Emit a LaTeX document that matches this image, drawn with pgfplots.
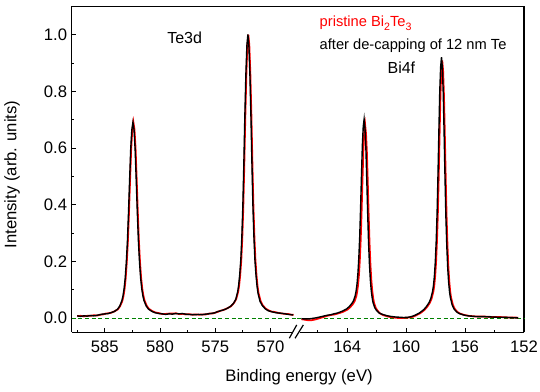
\documentclass[border=0pt]{standalone}
\usepackage{fontspec}
\setmainfont{Liberation Sans}
\usepackage{pgfplots}
\usepackage{pgfplotstable}
\pgfplotsset{compat=1.18}
\definecolor{xpsred}{RGB}{255,0,0}
\definecolor{zerogreen}{RGB}{0,128,0}

% Te3d region, black = after de-capping, red = pristine
\pgfplotstableread{
x y
587.5 0.008
587.2 0.006
586.9 0.008
586.6 0.007
586.3 0.009
586.0 0.008
585.7 0.010
585.46 0.012
585.2 0.014
584.96 0.015
584.7 0.016
584.46 0.019
584.16 0.023
583.86 0.031
583.66 0.042
583.46 0.061
583.36 0.078
583.26 0.103
583.16 0.140
583.06 0.195
582.96 0.269
582.86 0.371
582.76 0.487
582.66 0.596
582.56 0.664
582.46 0.691
582.36 0.665
582.26 0.597
582.16 0.488
582.06 0.372
581.96 0.270
581.86 0.196
581.76 0.141
581.66 0.104
581.56 0.079
581.46 0.062
581.26 0.043
581.06 0.032
580.76 0.024
580.46 0.019
580.1 0.016
579.8 0.015
579.5 0.013
579.2 0.015
578.9 0.014
578.6 0.016
578.3 0.015
578.0 0.016
577.7 0.014
577.4 0.013
577.1 0.012
576.8 0.012
576.5 0.013
576.2 0.012
575.9 0.014
575.6 0.015
575.3 0.017
575.0 0.019
574.81 0.023
574.58 0.025
574.35 0.028
574.1 0.031
573.89 0.035
573.61 0.042
573.34 0.053
573.15 0.066
572.97 0.094
572.88 0.118
572.79 0.154
572.69 0.207
572.60 0.285
572.51 0.392
572.42 0.540
572.33 0.707
572.23 0.864
572.14 0.963
572.05 1.001
571.96 0.961
571.87 0.862
571.77 0.705
571.68 0.537
571.59 0.389
571.50 0.281
571.41 0.202
571.31 0.148
571.22 0.112
571.13 0.087
570.95 0.059
570.76 0.045
570.49 0.033
570.21 0.026
569.95 0.023
569.75 0.021
569.5 0.019
569.29 0.018
569.0 0.017
568.7 0.015
568.4 0.013
568.15 0.012
567.95 0.011
}\teblack

\pgfplotstableread{
x y
587.5 0.007
587.2 0.008
586.9 0.006
586.6 0.008
586.3 0.008
586.0 0.010
585.7 0.009
585.42 0.012
585.16 0.013
584.92 0.016
584.66 0.017
584.42 0.019
584.12 0.024
583.82 0.031
583.62 0.042
583.42 0.060
583.32 0.077
583.22 0.101
583.12 0.138
583.02 0.193
582.92 0.266
582.82 0.368
582.72 0.484
582.62 0.594
582.52 0.663
582.42 0.692
582.32 0.667
582.22 0.600
582.12 0.492
582.02 0.376
581.92 0.274
581.82 0.199
581.72 0.144
581.62 0.106
581.52 0.081
581.42 0.064
581.22 0.044
581.02 0.033
580.72 0.025
580.42 0.020
580.06 0.017
579.76 0.014
579.46 0.015
579.16 0.016
578.86 0.016
578.56 0.017
578.26 0.014
577.96 0.015
577.66 0.013
577.36 0.014
577.06 0.012
576.76 0.013
576.46 0.012
576.16 0.013
575.86 0.013
575.56 0.016
575.26 0.016
574.96 0.020
574.77 0.022
574.54 0.026
574.31 0.028
574.06 0.032
573.85 0.036
573.57 0.042
573.30 0.054
573.11 0.067
572.93 0.093
572.84 0.116
572.75 0.151
572.65 0.203
572.56 0.280
572.47 0.386
572.38 0.533
572.29 0.700
572.19 0.858
572.10 0.960
572.01 1.000
571.92 0.963
571.83 0.866
571.73 0.711
571.64 0.543
571.55 0.395
571.46 0.286
571.37 0.206
571.27 0.151
571.18 0.114
571.09 0.089
570.91 0.061
570.72 0.046
570.45 0.034
570.17 0.027
569.91 0.023
569.71 0.022
569.46 0.020
569.25 0.018
568.96 0.016
568.66 0.015
568.36 0.014
568.11 0.012
567.91 0.012
}\tered

% Bi4f region
\pgfplotstableread{
x y
167.10 -0.002
166.85 -0.003
166.60 -0.003
166.35 -0.001
166.10 0.001
165.85 0.004
165.60 0.007
165.35 0.010
165.10 0.012
164.90 0.015
164.65 0.018
164.35 0.024
164.05 0.032
163.87 0.040
163.69 0.051
163.57 0.061
163.45 0.080
163.39 0.097
163.33 0.121
163.27 0.158
163.21 0.212
163.15 0.286
163.09 0.388
163.03 0.502
162.97 0.609
162.91 0.676
162.85 0.702
162.79 0.668
162.73 0.599
162.67 0.489
162.61 0.372
162.55 0.268
162.49 0.192
162.43 0.137
162.37 0.099
162.31 0.074
162.25 0.056
162.13 0.037
162.01 0.027
161.83 0.018
161.65 0.014
161.35 0.009
161.05 0.006
160.75 0.004
160.45 0.003
160.15 0.002
159.85 0.003
159.60 0.006
159.40 0.010
159.10 0.018
158.80 0.030
158.62 0.041
158.44 0.055
158.32 0.070
158.20 0.096
158.14 0.117
158.08 0.150
158.02 0.199
157.96 0.271
157.90 0.369
157.84 0.503
157.78 0.655
157.72 0.798
157.66 0.886
157.60 0.921
157.54 0.882
157.48 0.791
157.42 0.645
157.36 0.490
157.30 0.353
157.24 0.253
157.18 0.179
157.12 0.129
157.06 0.095
157.00 0.073
156.88 0.047
156.76 0.033
156.58 0.022
156.40 0.016
156.10 0.011
155.80 0.008
155.40 0.006
155.00 0.005
154.60 0.005
154.20 0.004
153.80 0.003
153.40 0.003
153.00 0.002
152.60 0.001
152.40 0.001
}\biblack

\pgfplotstableread{
x y
167.10 -0.004
166.85 -0.006
166.60 -0.008
166.35 -0.007
166.10 -0.004
165.85 0.000
165.60 0.004
165.35 0.008
165.10 0.011
164.85 0.013
164.58 0.017
164.28 0.022
163.98 0.030
163.80 0.038
163.62 0.049
163.50 0.059
163.38 0.077
163.32 0.094
163.26 0.117
163.20 0.153
163.14 0.206
163.08 0.278
163.02 0.377
162.96 0.488
162.90 0.591
162.84 0.657
162.78 0.682
162.72 0.650
162.66 0.583
162.60 0.476
162.54 0.362
162.48 0.261
162.42 0.187
162.36 0.134
162.30 0.097
162.24 0.072
162.18 0.055
162.06 0.036
161.94 0.026
161.76 0.016
161.58 0.011
161.28 0.006
160.98 0.003
160.68 0.001
160.38 0.000
160.08 0.001
159.78 0.002
159.53 0.005
159.35 0.009
159.05 0.017
158.75 0.029
158.57 0.040
158.39 0.054
158.27 0.069
158.15 0.094
158.09 0.115
158.03 0.148
157.97 0.196
157.91 0.268
157.85 0.364
157.79 0.497
157.73 0.647
157.67 0.788
157.61 0.875
157.55 0.909
157.49 0.871
157.43 0.781
157.37 0.637
157.31 0.484
157.25 0.349
157.19 0.250
157.13 0.177
157.07 0.128
157.01 0.094
156.95 0.072
156.83 0.047
156.71 0.033
156.53 0.022
156.35 0.016
156.05 0.011
155.75 0.008
155.35 0.006
154.95 0.006
154.55 0.005
154.15 0.004
153.75 0.004
153.35 0.003
152.95 0.002
152.55 0.002
152.40 0.001
}\bired

\pgfplotsset{
  xpsaxis/.style={
    scale only axis, height=244.35pt,
    ymin=-0.05, ymax=1.10, x dir=reverse,
    separate axis lines, axis x line*=box,
    axis line style={-, line width=1pt, black},
    tick align=inside, xtick pos=bottom,
    major tick length=3pt, minor tick length=2pt,
    tick style={line width=0.8pt, black},
    /pgf/number format/assume math mode=true,
    tick label style={font=\fontsize{12.5}{15}\selectfont},
    xticklabel style={yshift=-3pt},
    clip=false,
  },
  datared/.style={color=xpsred, line width=1.3pt},
  datablack/.style={color=black, line width=1.05pt},
  zeroline/.style={color=zerogreen, line width=0.75pt, dash pattern=on 3pt off 2pt},
}

\begin{document}
\begin{tikzpicture}
\begin{axis}[xpsaxis,
  at={(0pt,0pt)}, anchor=south west, width=169.0pt,
  xmin=567.6, xmax=588,
  axis y line*=left,
  xtick={570,575,580,585}, minor xtick={572.5,577.5,582.5,587.5},
  ytick={0,0.2,0.4,0.6,0.8,1.0}, minor ytick={0.1,0.3,0.5,0.7,0.9},
  ytick pos=left,
  yticklabel style={/pgf/number format/.cd, fixed, fixed zerofill, precision=1},
]
\addplot[zeroline] coordinates {(588,0) (567.6,0)};
\addplot[datared] table[x=x,y=y] {\tered};
\addplot[datablack] table[x=x,y=y] {\teblack};
\end{axis}
\begin{axis}[xpsaxis,
  at={(169.0pt,0pt)}, anchor=south west, width=170.25pt,
  xmin=152, xmax=167.4,
  axis y line*=right, ytick=\empty,
  xtick={152,156,160,164}, minor xtick={154,158,162,166},
]
\addplot[zeroline] coordinates {(167.4,0) (152,0)};
\addplot[datared] table[x=x,y=y] {\bired};
\addplot[datablack] table[x=x,y=y] {\biblack};
\end{axis}
% top frame across both parts
\draw[line width=1pt] (0pt,244.35pt) -- (339.25pt,244.35pt);
% axis break
\fill[white] (165.2pt,-0.9pt) rectangle (171.4pt,0.9pt);
\draw[line width=0.9pt] (163.2pt,-4.5pt) -- (168.75pt,5.5pt);
\draw[line width=0.9pt] (167.5pt,-4.5pt) -- (173.7pt,5.5pt);
% labels
\node[anchor=base west, inner sep=0pt, font=\fontsize{12}{14}\selectfont] at (71.5pt,216.5pt) {Te3d};
\node[anchor=base west, inner sep=0pt, font=\fontsize{12}{14}\selectfont] at (236.7pt,193.7pt) {Bi4f};
\node[anchor=base west, inner sep=0pt, font=\fontsize{11}{13}\selectfont, text=xpsred] at (185.8pt,229.2pt)
  {pristine Bi\raisebox{-0.45ex}{\fontsize{8}{8}\selectfont 2}Te\raisebox{-0.45ex}{\fontsize{8}{8}\selectfont 3}};
\node[anchor=base west, inner sep=0pt, font=\fontsize{11}{13}\selectfont] at (185.8pt,212.25pt) {after de-capping of 12 nm Te};
\node[rotate=90, anchor=center, inner sep=0pt, font=\fontsize{12.5}{15}\selectfont] at (-44.8pt,118.3pt) {Intensity (arb. units)};
\node[anchor=base, inner sep=0pt, font=\fontsize{12.5}{15}\selectfont] at (170.5pt,-37.3pt) {Binding energy (eV)};
\pgfresetboundingbox
\path[use as bounding box] (-53.8pt,-44.8pt) rectangle (351.2pt,249.2pt);
\end{tikzpicture}
\end{document}
